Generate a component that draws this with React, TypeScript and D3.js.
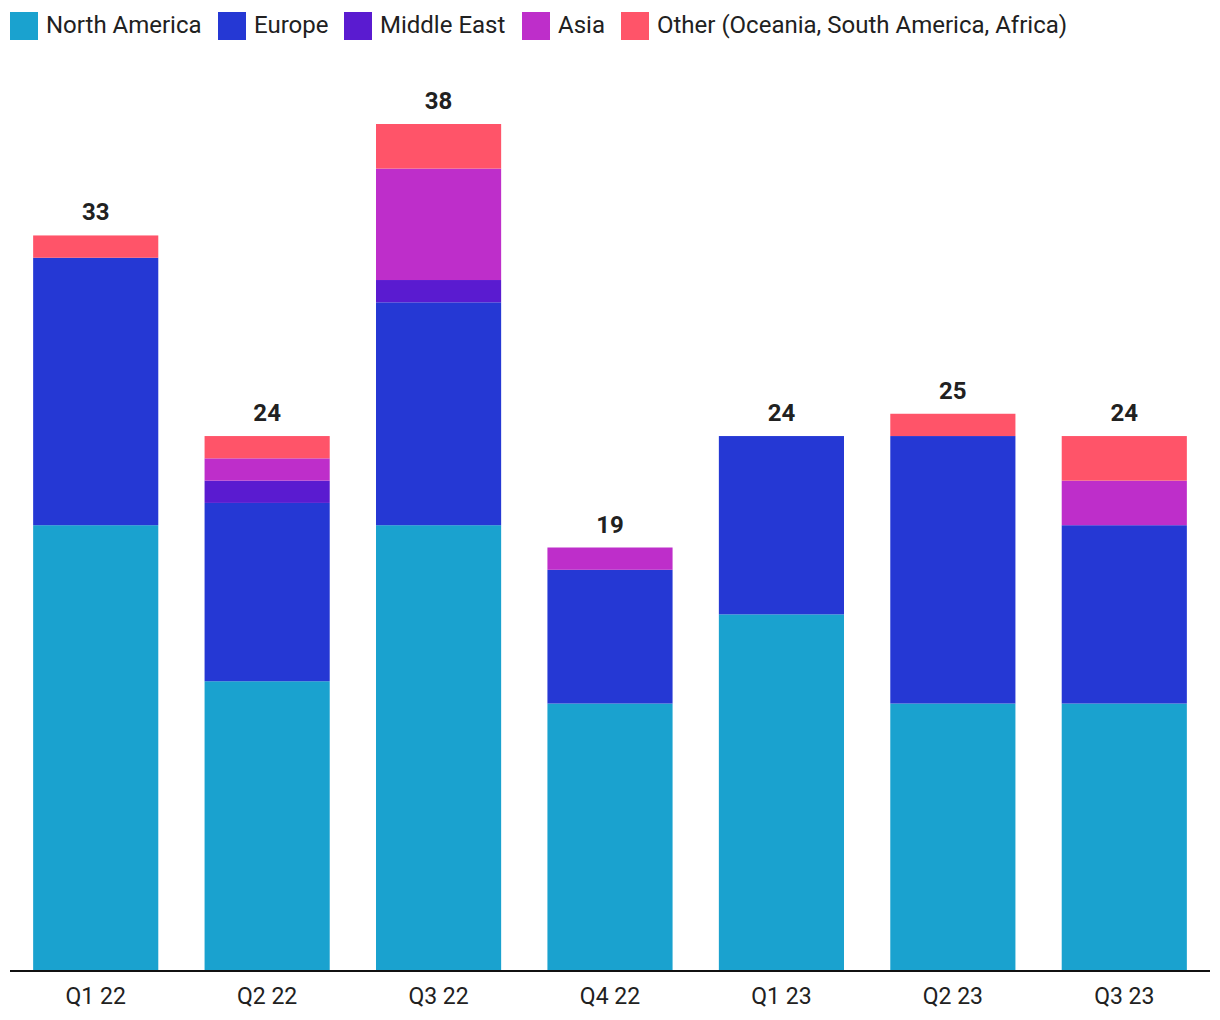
import React from "react";
import * as d3 from "d3";

const categories = ["Q1 22", "Q2 22", "Q3 22", "Q4 22", "Q1 23", "Q2 23", "Q3 23"];
const seriesNames = ["North America", "Europe", "Middle East", "Asia", "Other (Oceania, South America, Africa)"];
const northAmerica = [20, 13, 20, 12, 16, 12, 12];
const europe = [12, 8, 10, 6, 8, 12, 8];
const middleEast = [0, 1, 1, 0, 0, 0, 0];
const asia = [0, 1, 5, 1, 0, 0, 2];
const other = [1, 1, 2, 0, 0, 1, 2];
const colors = ["#1aa2cf", "#2538d4", "#5a1bd0", "#be2eca", "#ff5469"];

const W = 1220;
const H = 1020;
const FONT = "Roboto, sans-serif";

export default function App() {
  const seriesValues = [northAmerica, europe, middleEast, asia, other];
  const rows = categories.map((c, i) => {
    const r: any = { cat: c };
    seriesNames.forEach((s, j) => (r[s] = seriesValues[j][i]));
    return r;
  });
  const stacked = d3.stack<any>().keys(seriesNames)(rows);
  const totals = categories.map((_, i) => seriesValues.reduce((a, s) => a + s[i], 0));

  const x = d3.scaleBand<string>().domain(categories).range([10, 1210]).paddingInner(0.27).paddingOuter(0.135);
  const y = d3.scaleLinear().domain([0, 38]).range([971, 124]);

  // legend layout
  const legendX: number[] = [];
  let cx = 10;
  const textW = [155, 73, 125, 46, 409];
  seriesNames.forEach((s, i) => {
    legendX.push(cx);
    cx += 28 + 8 + textW[i] + 17;
  });

  return (
    <svg width={W} height={H} style={{ position: "absolute", left: 0, top: 0 }} fontFamily={FONT}>
      <rect width={W} height={H} fill="#fff" />
      {seriesNames.map((s, i) => (
        <g key={s} transform={`translate(${legendX[i]},12)`}>
          <rect width={28} height={28} fill={colors[i]} />
          <text x={36} y={13} dy="0.35em" fontSize={24} fill="#212121">{s}</text>
        </g>
      ))}
      {stacked.map((layer, li) => (
        <g key={layer.key} fill={colors[li]}>
          {layer.map((d, i) =>
            d[1] - d[0] > 0 ? (
              <rect key={i} x={x(categories[i])} width={x.bandwidth()} y={y(d[1])} height={y(d[0]) - y(d[1])} />
            ) : null
          )}
        </g>
      ))}
      {categories.map((c, i) => (
        <text key={c} x={(x(c) as number) + x.bandwidth() / 2} y={y(totals[i]) - 15} textAnchor="middle" fontSize={24} fontWeight="bold" fill="#212121">
          {totals[i]}
        </text>
      ))}
      <line x1={10} x2={1210} y1={971} y2={971} stroke="#111" strokeWidth={2} />
      {categories.map((c) => (
        <text key={c} x={(x(c) as number) + x.bandwidth() / 2} y={1004} textAnchor="middle" fontSize={23} fill="#212121">
          {c}
        </text>
      ))}
    </svg>
  );
}
